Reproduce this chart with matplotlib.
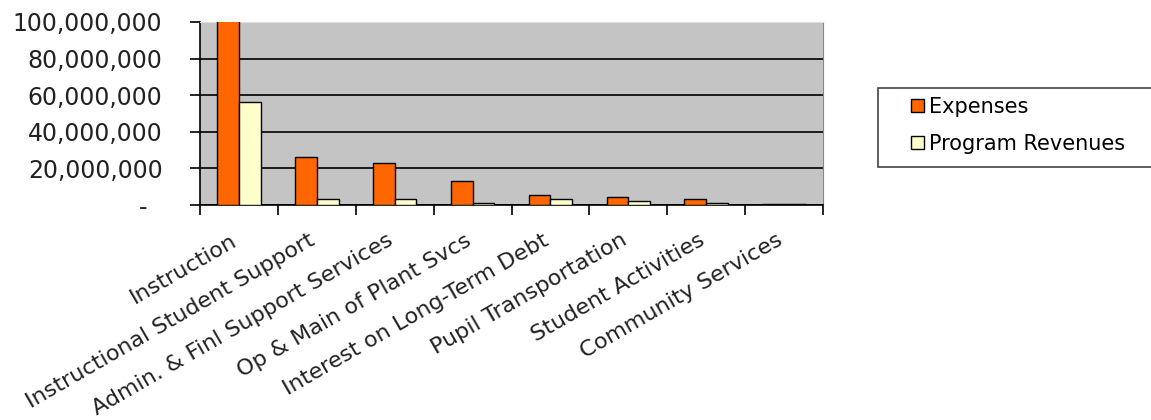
import numpy as np
import matplotlib.pyplot as plt
from matplotlib.ticker import FixedLocator, NullFormatter
from matplotlib.patches import Rectangle
from matplotlib.transforms import ScaledTranslation

categories = ["Instruction", "Instructional Student Support", "Admin. & Finl Support Services",
              "Op & Main of Plant Svcs", "Interest on Long-Term Debt", "Pupil Transportation",
              "Student Activities", "Community Services"]
expenses = [104000000, 26400000, 22800000, 13100000, 5500000, 4500000, 3100000, 700000]
revenues = [56400000, 3300000, 3100000, 1000000, 3300000, 2200000, 1300000, 600000]
y_ticks = [0, 20000000, 40000000, 60000000, 80000000, 100000000]
y_labels = ["-  ", "20,000,000", "40,000,000", "60,000,000", "80,000,000", "100,000,000"]

fig = plt.figure(figsize=(11.51, 4.2), dpi=100)
ax = fig.add_axes([200 / 1151, 1 - 205 / 420, 623 / 1151, 183 / 420])

x = np.arange(len(categories)) + 0.5
w = 0.28
ax.bar(x - w / 2, expenses, w, color="#FF6600", edgecolor="black", linewidth=1, label="Expenses", zorder=3)
ax.bar(x + w / 2, revenues, w, color="#FFFFCC", edgecolor="black", linewidth=1, label="Program Revenues", zorder=3)

ax.set_xlim(0, len(categories))
ax.set_ylim(0, 100000000)
ax.set_facecolor("#C4C4C4")

ax.set_yticks(y_ticks)
ax.set_yticklabels(y_labels, fontsize=17, color="#222222")
ax.grid(axis="y", color="black", linewidth=1.2, zorder=1)
ax.yaxis.get_gridlines()[-1].set_visible(False)

ax.xaxis.set_major_locator(FixedLocator(np.arange(len(categories) + 1)))
ax.xaxis.set_major_formatter(NullFormatter())
ax.xaxis.set_minor_locator(FixedLocator(x))
ax.set_xticklabels(categories, minor=True, rotation=30, ha="right", rotation_mode="anchor",
                   fontsize=16, color="#222222")
ax.tick_params(axis="x", which="minor", length=0, pad=18)
ax.tick_params(axis="x", which="major", length=7, width=1.2, direction="out")
ax.tick_params(axis="y", length=7, width=1.2, direction="out", pad=20)

# nudge the category labels a little to the left, as in the original
shift = ScaledTranslation(-6 / 72, 0, fig.dpi_scale_trans)
for lbl in ax.get_xticklabels(minor=True):
    lbl.set_transform(lbl.get_transform() + shift)

for s in ["left", "bottom"]:
    ax.spines[s].set_color("black")
    ax.spines[s].set_linewidth(1.2)
ax.spines["right"].set_color("#888888")
ax.spines["top"].set_color("#DDDDDD")

# legend frame drawn separately, entries placed inside it
fig.patches.append(Rectangle((878 / 1151, 1 - 167 / 420), 280 / 1151, 79 / 420,
                             transform=fig.transFigure, facecolor="white",
                             edgecolor="#444444", linewidth=1.2))
fig.legend(loc="upper left", bbox_to_anchor=(911 / 1151, 1 - 97 / 420),
           fontsize=15, frameon=False,
           handlelength=0.62, handleheight=0.62, handletextpad=0.25, labelspacing=0.8,
           borderaxespad=0, borderpad=0)

fig.savefig("out.png", dpi=100)
